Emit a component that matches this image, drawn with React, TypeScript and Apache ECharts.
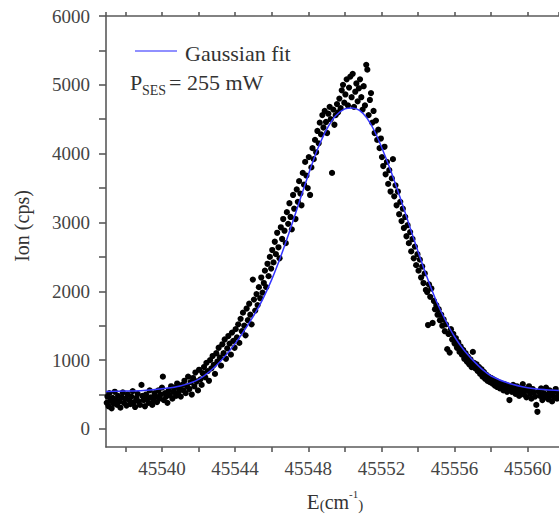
import React, { useEffect, useRef } from 'react';
import * as echarts from 'echarts';

const X_MIN = 45536.94;
const X_MAX = 45561.71;
const Y_MIN = -262;
const Y_MAX = 6000;

const fitX = [45536.94, 45538, 45539, 45540, 45541, 45542, 45543, 45544, 45545, 45545.5, 45546, 45546.5, 45547, 45547.5, 45548, 45548.5, 45549, 45549.5, 45550, 45550.4, 45550.8, 45551.2, 45551.6, 45552, 45552.5, 45553, 45553.5, 45554, 45554.5, 45555, 45555.5, 45556, 45556.5, 45557, 45557.5, 45558, 45559, 45560, 45561, 45561.71];
const fitY = [545, 550, 560, 585, 625, 720, 930, 1240, 1640, 1880, 2170, 2510, 2890, 3290, 3690, 4060, 4350, 4550, 4650, 4665, 4630, 4520, 4340, 4100, 3760, 3380, 2980, 2580, 2200, 1860, 1580, 1340, 1150, 1000, 870, 770, 660, 600, 570, 560];

const baselineLeft = [[45536.98, 380],[45537.02, 470],[45537.08, 330],[45537.12, 520],[45537.18, 410],[45537.25, 300],[45537.3, 450],[45537.36, 370],[45537.42, 540],[45537.48, 420],[45537.55, 350],[45537.6, 480],[45537.67, 400],[45537.73, 310],[45537.8, 460],[45537.86, 530],[45537.92, 380],[45538.0, 440],[45538.06, 340],[45538.13, 500],[45538.2, 420],[45538.27, 360],[45538.33, 470],[45538.4, 550],[45538.47, 390],[45538.53, 320],[45538.6, 450],[45538.67, 510],[45538.73, 400],[45538.8, 350],[45538.88, 640],[45538.93, 480],[45539.0, 420],[45539.07, 330],[45539.13, 500],[45539.2, 440],[45539.27, 380],[45539.33, 560],[45539.4, 460],[45539.47, 350],[45539.53, 420],[45539.6, 520],[45539.67, 470],[45539.73, 390],[45539.8, 560],[45539.87, 440],[45539.93, 500],[45540.0, 600],[45540.05, 760]];

const shoulderLeft = [[45540.1, 420],[45540.17, 520],[45540.23, 470],[45540.3, 380],[45540.37, 560],[45540.43, 490],[45540.5, 620],[45540.57, 440],[45540.63, 540],[45540.7, 600],[45540.77, 480],[45540.83, 660],[45540.9, 530],[45540.97, 580],[45541.03, 470],[45541.1, 640],[45541.17, 560],[45541.23, 700],[45541.3, 520],[45541.37, 620],[45541.43, 760],[45541.5, 580],[45541.57, 680],[45541.63, 500],[45541.7, 740],[45541.77, 620],[45541.83, 820],[45541.9, 690],[45541.97, 560],[45542.03, 860],
[45542.1, 720],[45542.17, 640],[45542.23, 810],[45542.3, 900],[45542.37, 750],[45542.43, 960],[45542.5, 840],[45542.57, 700],[45542.63, 1000],[45542.7, 880],[45542.77, 1060],[45542.83, 930],[45542.9, 800],[45542.97, 1100],[45543.03, 980],[45543.1, 1180],[45543.17, 1040],[45543.23, 920],[45543.3, 1230],[45543.37, 1100],[45543.43, 1300],[45543.5, 1020],[45543.57, 1170],[45543.63, 1350],[45543.7, 1240],[45543.77, 1080],[45543.83, 1400],[45543.9, 1280],[45543.97, 1180]];

const risingEdge = [[45544.03, 1450],[45544.1, 1330],[45544.17, 1520],[45544.23, 1250],[45544.3, 1600],[45544.37, 1420],[45544.43, 1690],[45544.5, 1500],[45544.57, 1360],[45544.63, 1750],[45544.7, 1580],[45544.77, 1820],[45544.83, 1660],[45544.9, 1520],[45544.97, 2170],[45545.03, 1880],[45545.1, 1720],[45545.17, 1960],[45545.23, 1800],[45545.3, 2060],[45545.37, 1900],[45545.43, 2200],[45545.5, 1980],[45545.57, 2120],[45545.63, 2300],[45545.7, 2060],[45545.77, 2400],[45545.83, 2220],[45545.9, 2500],[45545.97, 2330],
[45546.03, 2600],[45546.1, 2420],[45546.17, 2720],[45546.23, 2540],[45546.3, 2850],[45546.37, 2640],[45546.43, 2480],[45546.5, 2930],[45546.57, 2760],[45546.63, 3050],[45546.7, 2880],[45546.77, 2700],[45546.83, 3150],[45546.9, 2980],[45546.97, 3280],[45547.03, 3080],[45547.1, 2900],[45547.17, 3400],[45547.23, 3200],[45547.3, 3050],[45547.37, 3480],[45547.43, 3300],[45547.5, 3600],[45547.57, 3420],[45547.63, 3250],[45547.7, 3720],[45547.77, 3550],[45547.83, 3880],[45547.9, 3680],[45547.97, 3500],[45548.03, 3950],[45548.1, 3400],[45548.17, 3800]];

const peak = [[45548.23, 4080],[45548.3, 3920],[45548.37, 4200],[45548.43, 4020],[45548.5, 4330],[45548.57, 4150],[45548.63, 4450],[45548.7, 4280],[45548.77, 4560],[45548.83, 4380],[45548.9, 4620],[45548.97, 4460],[45549.03, 4300],[45549.1, 4580],[45549.17, 4680],[45549.23, 4500],[45549.3, 3720],[45549.37, 4640],[45549.43, 4420],[45549.5, 4560],[45549.57, 4720],[45549.63, 4600],[45549.7, 4800],[45549.77, 4660],[45549.83, 4920],[45549.9, 5000],[45549.97, 4740],[45550.03, 4860],[45550.1, 5080],[45550.17, 4700],[45550.23, 4960],[45550.3, 5120],[45550.37, 4820],[45550.43, 5160],
[45550.5, 4680],[45550.57, 4900],[45550.63, 5020],[45550.7, 4760],[45550.77, 4950],[45550.83, 5080],[45550.9, 4820],[45550.97, 4640],[45551.03, 4980],[45551.1, 4700],[45551.17, 5290],[45551.23, 5220],[45551.3, 4560],[45551.37, 4780],[45551.43, 4880],[45551.5, 4450],[45551.57, 4620],[45551.63, 4300],[45551.7, 4480],[45551.77, 4200],[45551.83, 4350],[45551.9, 4080],[45551.97, 4220]];

const fallingEdge = [[45552.03, 3950],[45552.1, 3820],[45552.17, 4100],[45552.23, 3700],[45552.3, 3880],[45552.37, 3560],[45552.43, 3760],[45552.5, 3450],[45552.57, 3640],[45552.63, 3920],[45552.7, 3380],[45552.77, 3540],[45552.83, 3250],[45552.9, 3450],[45552.97, 3120],[45553.03, 3300],[45553.1, 3020],[45553.17, 3200],[45553.23, 2920],[45553.3, 3080],[45553.37, 2800],[45553.43, 2960],[45553.5, 2700],[45553.57, 2860],[45553.63, 2580],[45553.7, 2760],[45553.77, 2480],[45553.83, 2650],[45553.9, 2380],[45553.97, 2540],[45554.03, 2300],[45554.1, 2460],[45554.17, 2200],[45554.23, 2360],[45554.3, 2120],[45554.37, 2260],[45554.43, 2020],[45554.5, 1990],
[45554.55, 1510],[45554.6, 2100],[45554.67, 1920],[45554.73, 2040],[45554.8, 1540],[45554.87, 1860],[45554.93, 1740],[45555.0, 1800],[45555.07, 1660],[45555.13, 1740],[45555.2, 1580],[45555.27, 1660],[45555.33, 1500],[45555.4, 1590],[45555.47, 1420],[45555.53, 1520],[45555.6, 1160],[45555.67, 1380],[45555.73, 1110],[45555.8, 1450],[45555.87, 1300],[45555.93, 1380],[45556.0, 1240],[45556.07, 1320],[45556.13, 1180],[45556.2, 1260],[45556.27, 1120],[45556.33, 1200],[45556.4, 1080],[45556.47, 1150],[45556.53, 1020],[45556.6, 1100],[45556.67, 980],[45556.73, 1050],[45556.8, 940],[45556.87, 1010],[45556.93, 900],[45557.0, 1120],[45557.07, 960]];

const baselineRight = [[45557.13, 880],[45557.2, 940],[45557.27, 840],[45557.33, 900],[45557.4, 800],[45557.47, 870],[45557.53, 760],[45557.6, 830],[45557.67, 730],[45557.73, 790],[45557.8, 700],[45557.87, 760],[45557.93, 680],[45558.0, 740],[45558.07, 660],[45558.13, 720],[45558.2, 630],[45558.27, 700],[45558.33, 610],[45558.4, 680],[45558.47, 590],[45558.53, 660],[45558.6, 620],[45558.67, 560],[45558.73, 650],[45558.8, 590],[45558.87, 540],[45558.93, 630],[45559.0, 420],[45559.07, 600],[45559.13, 540],[45559.2, 640],[45559.27, 570],[45559.33, 510],[45559.4, 620],[45559.47, 560],[45559.53, 480],[45559.6, 600],[45559.67, 540],[45559.73, 650],[45559.8, 500],[45559.87, 580],[45559.93, 460],[45560.0, 560],[45560.07, 620],[45560.13, 510],[45560.2, 440],[45560.27, 580],[45560.33, 530],[45560.4, 470],[45560.47, 350],[45560.53, 250],[45560.6, 540],[45560.67, 480],[45560.73, 590],[45560.8, 420],[45560.87, 520],[45560.93, 460],[45561.0, 600],[45561.07, 500],[45561.13, 430],[45561.2, 560],[45561.27, 480],[45561.33, 400],[45561.4, 530],[45561.47, 460],[45561.53, 580],[45561.6, 440],[45561.67, 510]];

const SERIF = '"Liberation Serif", "Times New Roman", serif';

export default function App() {
  const ref = useRef<HTMLDivElement>(null);
  useEffect(() => {
    if (!ref.current) return;
    const chart = echarts.init(ref.current, null, { renderer: 'svg' });
    const scatterData = [...baselineLeft, ...shoulderLeft, ...risingEdge, ...peak, ...fallingEdge, ...baselineRight];
    const fitData = fitX.map((x, i) => [x, fitY[i]]);
    const axisLineStyle = { color: '#5a5a5a', width: 1.6 };
    chart.setOption({
      animation: false,
      backgroundColor: '#fff',
      grid: { left: 106, top: 16, right: 0, bottom: 70, containLabel: false },
      xAxis: [
        {
          type: 'value', position: 'bottom', min: X_MIN, max: X_MAX, splitNumber: 12,
          axisLine: { show: true, onZero: false, lineStyle: axisLineStyle },
          axisTick: { show: true, inside: false, length: 5, lineStyle: axisLineStyle },
          axisLabel: {
            show: true, margin: 12, fontFamily: SERIF, fontSize: 19, color: '#444',
            showMinLabel: false, showMaxLabel: false,
            formatter: (v: number) => (Math.abs(v % 4) < 1e-6 ? String(v) : ''),
          },
          splitLine: { show: false },
        },
        {
          type: 'value', position: 'top', min: X_MIN, max: X_MAX, splitNumber: 12,
          axisLine: { show: true, onZero: false, lineStyle: axisLineStyle },
          axisTick: { show: true, inside: false, length: 4, lineStyle: axisLineStyle },
          axisLabel: { show: false },
          splitLine: { show: false },
        },
      ],
      yAxis: {
        type: 'value', min: Y_MIN, max: Y_MAX, splitNumber: 12,
        axisLine: { show: true, onZero: false, lineStyle: axisLineStyle },
        axisTick: { show: true, inside: false, length: 7, lineStyle: axisLineStyle },
        axisLabel: {
          show: true, margin: 16, fontFamily: SERIF, fontSize: 19, color: '#444',
          showMinLabel: false,
          formatter: (v: number) => (Math.abs(v % 1000) < 1e-6 ? String(v) : ''),
        },
        splitLine: { show: false },
      },
      series: [
        {
          name: 'Data', type: 'scatter', data: scatterData, symbol: 'circle', symbolSize: 6.2,
          itemStyle: { color: '#000', opacity: 1 }, z: 2,
        },
        {
          name: 'Gaussian fit', type: 'line', data: fitData, smooth: 0.35, symbol: 'none',
          lineStyle: { color: '#3535ff', width: 1.5 }, z: 3,
        },
      ],
      graphic: [
        { type: 'line', shape: { x1: 135, y1: 51, x2: 177, y2: 51 }, style: { stroke: '#6b6bff', lineWidth: 1.5 } },
        { type: 'text', x: 185, y: 53, style: { text: 'Gaussian fit', font: `22px ${SERIF}`, fill: '#333', verticalAlign: 'middle', align: 'left' } },
        { type: 'text', x: 130, y: 82, style: { text: 'P', font: `22px ${SERIF}`, fill: '#333', verticalAlign: 'middle', align: 'left' } },
        { type: 'text', x: 142, y: 90, style: { text: 'SES', font: `14px ${SERIF}`, fill: '#333', verticalAlign: 'middle', align: 'left' } },
        { type: 'text', x: 169, y: 82, style: { text: '= 255 mW', font: `22px ${SERIF}`, fill: '#333', verticalAlign: 'middle', align: 'left' } },
        { type: 'text', x: 22, y: 226, rotation: Math.PI / 2, style: { text: 'Ion (cps)', font: `20px ${SERIF}`, fill: '#333', verticalAlign: 'middle', align: 'center' } },
        {
          type: 'text', x: 335, y: 500,
          style: {
            text: '{e|E}{p|(}{c|cm}{s|-1}{p|)}', align: 'center', verticalAlign: 'middle', fill: '#333',
            rich: {
              e: { fontFamily: SERIF, fontSize: 21, lineHeight: 24, fill: '#333', verticalAlign: 'bottom' },
              p: { fontFamily: SERIF, fontSize: 15, lineHeight: 18, fill: '#333', verticalAlign: 'bottom' },
              c: { fontFamily: SERIF, fontSize: 20, lineHeight: 24, fill: '#333', verticalAlign: 'bottom' },
              s: { fontFamily: SERIF, fontSize: 11, lineHeight: 12, fill: '#333', verticalAlign: 'top' },
            },
          },
        },
      ],
    });
    return () => chart.dispose();
  }, []);
  return <div ref={ref} style={{ position: 'absolute', left: 0, top: 0, width: 559, height: 517 }} />;
}
